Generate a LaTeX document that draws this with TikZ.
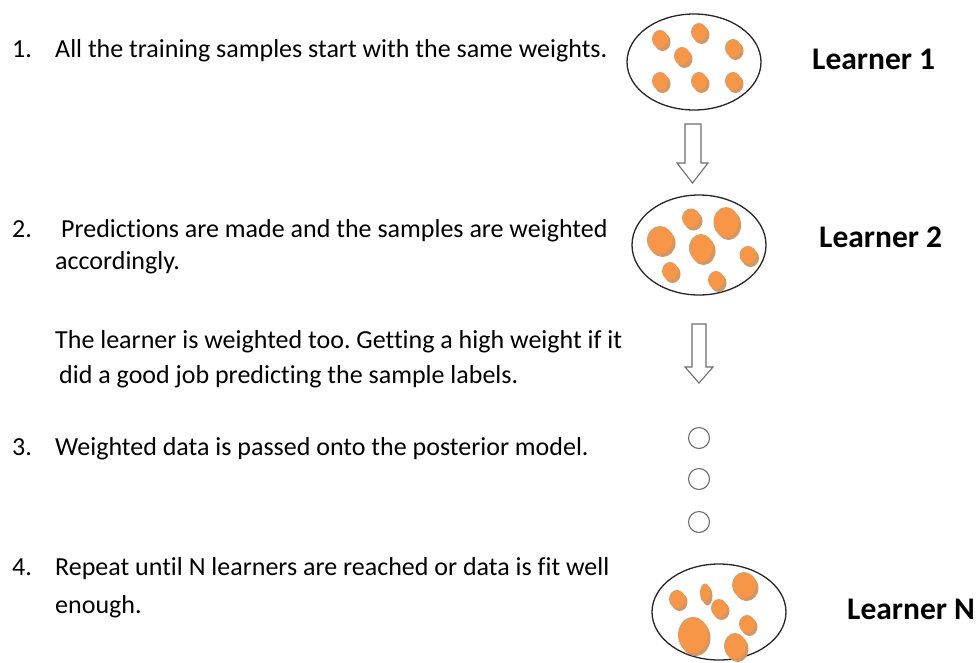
\documentclass[tikz,border=0pt]{standalone}
\usepackage{fontspec}
\setmainfont{Carlito}[Ligatures=CommonOff]
\usetikzlibrary{shapes.geometric}
\frenchspacing
\definecolor{dotor}{HTML}{F79646}
\definecolor{dotsh}{HTML}{C89A72}
\definecolor{arrgray}{HTML}{6E6E6E}
\newcommand{\wdot}[4]{%
  \fill[dotsh] (#1+2.5,#2+3) ellipse [x radius=#3pt, y radius=#4pt];
  \fill[dotor] (#1,#2) ellipse [x radius=#3pt, y radius=#4pt];}
\tikzset{
  body/.style={anchor=base west, inner sep=0pt, font=\fontsize{26}{31}\selectfont},
  learner/.style={anchor=base west, inner sep=0pt, font=\bfseries\fontsize{31.5}{36}\selectfont},
  bag/.style={ellipse, draw=black!85, line width=1.3pt, minimum width=134pt, minimum height=96pt, inner sep=0pt},
  blockarrow/.style={draw=arrgray, fill=white, line width=1.1pt, line join=miter},
  dotcircle/.style={circle, draw=arrgray, line width=1.1pt, minimum size=21pt, inner sep=0pt}
}
\begin{document}
\begin{tikzpicture}[x=1pt,y=-1pt]
\fill[white] (0,0) rectangle (977,662);
\useasboundingbox (0,0) rectangle (977,662);

% left texts
\node[body] (n1) at (12,57) {1.};
\node[body] (t1) at (55,57) {All the training samples start with the same weights.};
\node[body] (n2) at (12,237) {2.};
\node[body] (t2a) at (61,237) {Predictions are made and the samples are weighted};
\node[body] (t2b) at (55,269) {accordingly.};
\node[body] (t2c) at (55,348) {The learner is weighted too. Getting a high weight if it};
\node[body] (t2d) at (59,383) {did a good job predicting the sample labels.};
\node[body] (n3) at (12,455) {3.};
\node[body] (t3) at (55,455) {Weighted data is passed onto the posterior model.};
\node[body] (n4) at (12,575) {4.};
\node[body] (t4a) at (55,575) {Repeat until N learners are reached or data is fit well};
\node[body] (t4b) at (55,613) {enough.};

% learner bags
\node[bag] (L1) at (694,62) {};
\node[bag, minimum height=100pt] (L2) at (699,245) {};
\node[bag] (LN) at (719,612) {};

% learner labels
\node[learner] (lab1) at (812,69) {Learner 1};
\node[learner] (lab2) at (819,247) {Learner 2};
\node[learner] (labN) at (847,619) {Learner N};

% dots learner 1
\wdot{660}{39}{8}{9}
\wdot{699}{32}{8}{9}
\wdot{682}{56}{8}{9}
\wdot{733}{48}{8}{9}
\wdot{660}{81}{8}{9}
\wdot{699}{81}{8}{9}
\wdot{733}{81}{8}{9}

% dots learner 2
\wdot{660}{240}{13}{14}
\wdot{691}{218}{9}{9.5}
\wdot{726}{222}{12.5}{15}
\wdot{701}{248}{12}{14}
\wdot{748}{255}{8.5}{9}
\wdot{670}{271}{8}{9}
\wdot{716}{280}{8}{9}

% dots learner N
\wdot{677}{599}{8}{9}
\wdot{705}{593}{5}{9.5}
\wdot{744}{585}{12}{13}
\wdot{719}{608}{8}{9}
\wdot{693}{635}{15}{18}
\wdot{747}{624}{8}{9}
\wdot{735}{646}{11}{13}

% block arrows
\draw[blockarrow] (685,124) -- (701,124) -- (701,163) -- (708,163) -- (692.5,183)
  -- (677,163) -- (685,163) -- cycle;
\draw[blockarrow] (692,324) -- (706,324) -- (706,367) -- (713,367) -- (699,383)
  -- (685,367) -- (692,367) -- cycle;

% continuation circles
\node[dotcircle] (c1) at (699,438) {};
\node[dotcircle] (c2) at (699,479) {};
\node[dotcircle] (c3) at (699,522) {};
\end{tikzpicture}
\end{document}
